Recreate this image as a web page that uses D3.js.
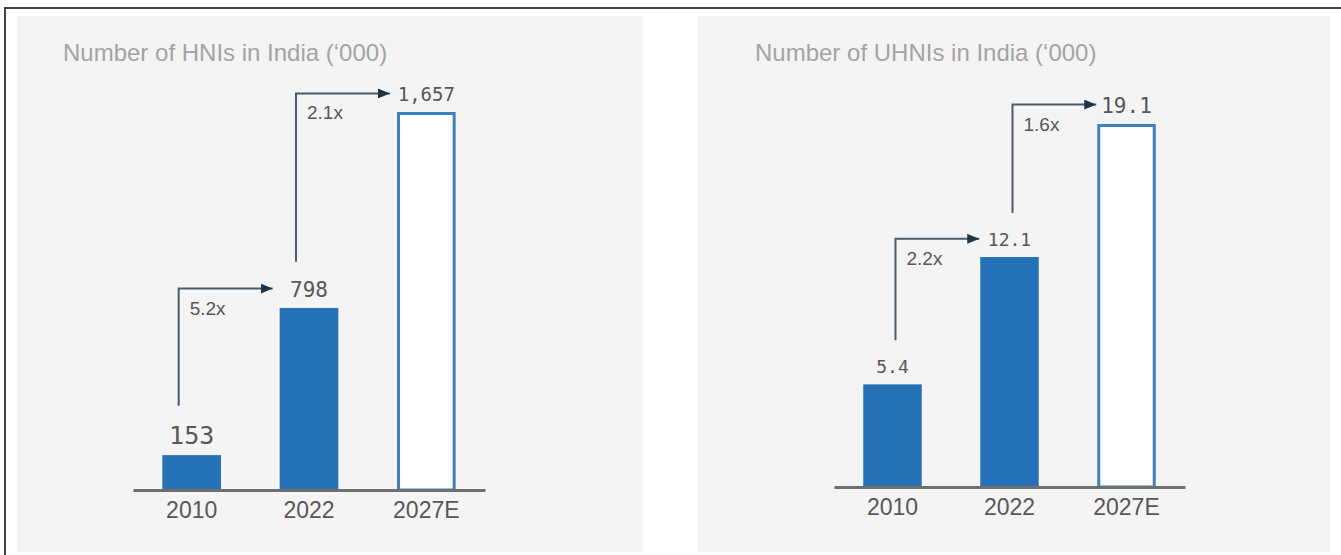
<!DOCTYPE html>
<html>
<head>
<meta charset="utf-8">
<script src="https://cdn.jsdelivr.net/npm/d3@7"></script>
<style>
  html, body { margin: 0; padding: 0; background: #ffffff; }
  svg { display: block; }
</style>
</head>
<body>
<svg id="chart" width="1341" height="555"></svg>
<script>
// ---- data ----
const categories = ["2010", "2022", "2027E"];
const isEstimate = [false, false, true];

const hniTitle = "Number of HNIs in India (‘000)";
const hniValues = [153, 798, 1657];
const hniGrowth = ["5.2x", "2.1x"];

const uhniTitle = "Number of UHNIs in India (‘000)";
const uhniValues = [5.4, 12.1, 19.1];
const uhniGrowth = ["2.2x", "1.6x"];

// ---- styling ----
const BLUE = "#2572b8";
const OUTLINE = "#3b80c2";
const ARROW = "#4b5b6b";
const ARROW_HEAD = "#1e3448";
const TEXT = "#575757";
const TITLE = "#a3a3a3";
const PANEL_BG = "#f4f4f4";

const svg = d3.select("#chart");

// outer frame (top and left edges)
svg.append("line").attr("x1", 5).attr("x2", 1341).attr("y1", 8).attr("y2", 8)
  .attr("stroke", "#444").attr("stroke-width", 2);
svg.append("line").attr("x1", 5).attr("x2", 5).attr("y1", 7).attr("y2", 555)
  .attr("stroke", "#444").attr("stroke-width", 2);

// arrowhead marker
svg.append("defs").append("marker")
  .attr("id", "head")
  .attr("viewBox", "0 0 12 10")
  .attr("refX", 12).attr("refY", 5)
  .attr("markerWidth", 12).attr("markerHeight", 10)
  .attr("markerUnits", "userSpaceOnUse")
  .attr("orient", "auto")
  .append("path").attr("d", "M0,0 L12,5 L0,10 Z").attr("fill", ARROW_HEAD);

const panels = [
  {
    title: hniTitle, values: hniValues, growth: hniGrowth, fmt: d3.format(","),
    bg: { x: 17, y: 16, w: 626, h: 536 },
    titlePos: { x: 63, y: 61 },
    xRange: [133, 485], yRange: [490, 112],
    labelSizes: [25, 21, 19],
    arrowDx: -13, tipDx: -7
  },
  {
    title: uhniTitle, values: uhniValues, growth: uhniGrowth, fmt: d3.format(".1f"),
    bg: { x: 698, y: 16, w: 632, h: 536 },
    titlePos: { x: 755, y: 61 },
    xRange: [834, 1185], yRange: [487, 124],
    labelSizes: [18, 18, 21],
    arrowDx: 3, tipDx: -1
  }
];

panels.forEach(p => {
  const g = svg.append("g");

  g.append("rect")
    .attr("x", p.bg.x).attr("y", p.bg.y)
    .attr("width", p.bg.w).attr("height", p.bg.h)
    .attr("fill", PANEL_BG);

  g.append("text")
    .attr("x", p.titlePos.x).attr("y", p.titlePos.y)
    .attr("fill", TITLE)
    .style("font-family", "'Liberation Sans', Arial, sans-serif")
    .style("font-size", "24px")
    .text(p.title);

  const x = d3.scaleBand().domain(categories).range(p.xRange)
    .paddingInner(0.5).paddingOuter(0.25);
  const y = d3.scaleLinear().domain([0, d3.max(p.values)]).range(p.yRange);

  const rows = categories.map((c, i) => ({ c, v: p.values[i], est: isEstimate[i], size: p.labelSizes[i] }));

  // bars: actuals solid, estimate outlined
  g.selectAll("rect.bar").data(rows).join("rect")
    .attr("class", "bar")
    .attr("x", d => d.est ? x(d.c) + 1.5 : x(d.c))
    .attr("y", d => d.est ? y(d.v) + 1.5 : y(d.v))
    .attr("width", d => d.est ? x.bandwidth() - 3 : x.bandwidth())
    .attr("height", d => d.est ? y(0) - y(d.v) - 1.5 : y(0) - y(d.v))
    .attr("fill", d => d.est ? "#ffffff" : BLUE)
    .attr("stroke", d => d.est ? OUTLINE : "none")
    .attr("stroke-width", 3);

  // baseline axis
  const axis = d3.axisBottom(x).tickSize(0).tickPadding(12);
  const ax = g.append("g").attr("transform", `translate(0,${y(0)})`).call(axis);
  ax.select(".domain")
    .attr("stroke", "#6f6f6f").attr("stroke-width", 3);
  ax.selectAll(".tick text")
    .attr("fill", TEXT)
    .attr("dy", "0.71em")
    .style("font-family", "'Liberation Sans', Arial, sans-serif")
    .style("font-size", "23px");

  // value labels
  const labelBase = d => y(d.v) - 11;
  g.selectAll("text.val").data(rows).join("text")
    .attr("class", "val")
    .attr("x", d => x(d.c) + x.bandwidth() / 2)
    .attr("y", labelBase)
    .attr("text-anchor", "middle")
    .attr("fill", TEXT)
    .style("font-family", "'DejaVu Sans Mono', monospace")
    .style("font-size", d => d.size + "px")
    .text(d => p.fmt(d.v));

  // growth arrows between consecutive bars
  p.growth.forEach((lab, i) => {
    const from = rows[i], to = rows[i + 1];
    const lx = x(from.c) + x.bandwidth() / 2 + p.arrowDx;
    const top = labelBase(to) - 0.4 * to.size;
    const bottom = labelBase(from) - 0.73 * from.size - 20;
    const tip = x(to.c) + p.tipDx;
    g.append("path")
      .attr("d", `M${lx},${bottom} L${lx},${top} L${tip},${top}`)
      .attr("fill", "none")
      .attr("stroke", ARROW)
      .attr("stroke-width", 2)
      .attr("marker-end", "url(#head)");
    g.append("text")
      .attr("x", lx + 11).attr("y", top + 26)
      .attr("fill", TEXT)
      .style("font-family", "'Liberation Sans', Arial, sans-serif")
      .style("font-size", "19px")
      .text(lab);
  });
});
</script>
</body>
</html>
